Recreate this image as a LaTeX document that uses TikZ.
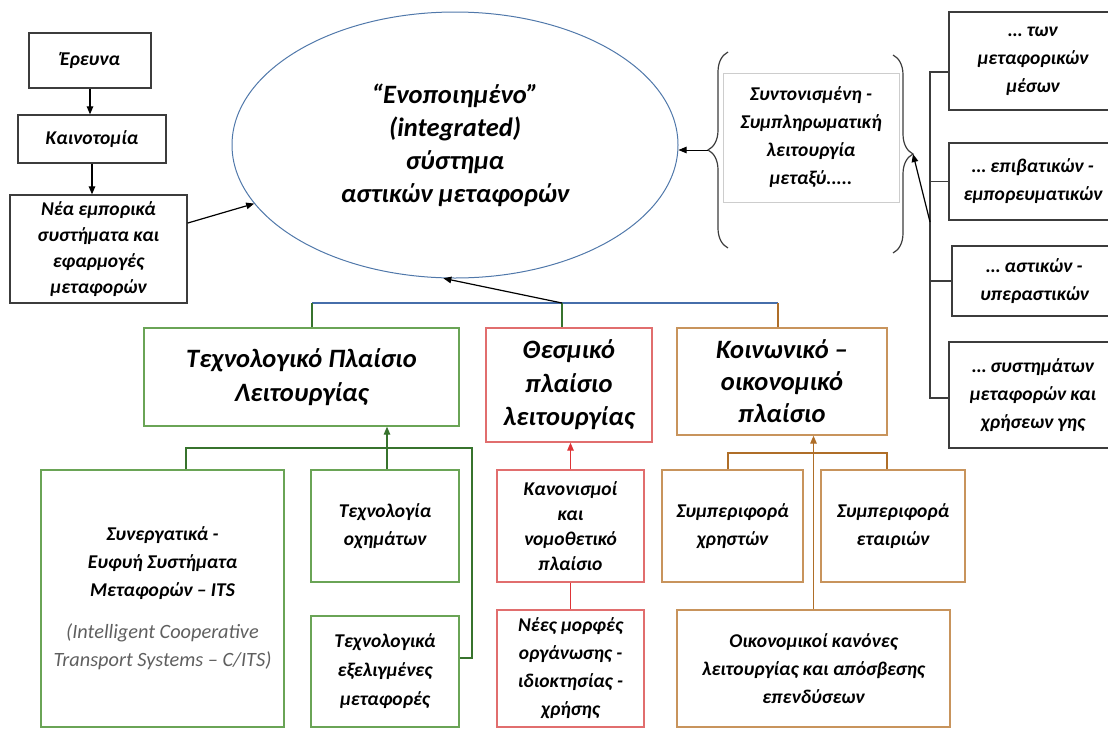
\documentclass[tikz,border=0pt]{standalone}
\usepackage{fontspec}
\setmainfont{Carlito}
\usetikzlibrary{arrows.meta,shapes.geometric,decorations.pathreplacing}

\definecolor{boxgray}{RGB}{60,60,60}
\definecolor{ligray}{RGB}{205,205,205}
\definecolor{itsgray}{RGB}{95,95,95}
\definecolor{ellblue}{RGB}{80,120,170}
\definecolor{busblue}{RGB}{70,110,170}
\definecolor{grnbox}{RGB}{106,164,86}
\definecolor{grnline}{RGB}{55,115,45}
\definecolor{redbox}{RGB}{225,110,110}
\definecolor{redline}{RGB}{222,52,55}
\definecolor{brnbox}{RGB}{200,148,92}
\definecolor{brnline}{RGB}{175,110,40}

\newcommand{\smallfont}[1]{\bfseries\itshape\fontsize{19.5}{#1}\selectfont}
\newcommand{\largefont}[1]{\bfseries\itshape\fontsize{26.5}{#1}\selectfont}
\newcommand{\engtext}[1]{{\mdseries\fontsize{20.3}{28}\selectfont\color{itsgray}#1}}

\tikzset{
  box/.style={draw=boxgray, line width=1.3pt, align=center, inner sep=2pt, font=\smallfont{28}},
  bigbox/.style={box, font=\largefont{34}},
  arr/.style={-{Triangle[length=8pt,width=6.5pt]}, line width=1.2pt, draw=black},
  conn/.style={line width=1.3pt},
  brace/.style={decorate, decoration={brace,amplitude=20pt}, line width=1.2pt, draw=boxgray},
}

\begin{document}
\begin{tikzpicture}[x=1pt,y=-1pt]
  \useasboundingbox (0,0) rectangle (1108,729);
  \clip (0,0) rectangle (1108,729);

  % Left chain
  \node[box, minimum width=122, minimum height=55] (erevna) at (90,60.5) {Έρευνα};
  \node[box, minimum width=148, minimum height=48] (kainot) at (92,139) {Καινοτομία};
  \node[box, minimum width=177, minimum height=108, font=\smallfont{26}] (nea) at (98.5,249)
    {Νέα εμπορικά\\συστήματα και\\εφαρμογές\\μεταφορών};

  % Central ellipse
  \node[ellipse, draw=ellblue, line width=1pt, minimum width=446, minimum height=266, inner sep=0pt,
    align=center, font=\largefont{33}] (sys) at (455,145)
    {“Ενοποιημένο”\\(integrated)\\σύστημα\\αστικών μεταφορών};

  % Braces and their text
  \node[box, draw=ligray, line width=0.8pt, minimum width=176, minimum height=129] (coord) at (811,137.5)
    {Συντονισμένη -\\Συμπληρωματική\\λειτουργία\\μεταξύ.....};
  \draw[brace] (728,248) -- (728,52);
  \draw[brace] (893,55) -- (893,253);
  \coordinate (lbtip) at (708,150);
  \coordinate (rbtip) at (913,154);

  % Right boxes
  \node[box, minimum width=168, minimum height=98] (means) at (1033,61) {… των\\μεταφορικών\\μέσων};
  \node[box, minimum width=168, minimum height=77] (pass) at (1033,181.5) {… επιβατικών -\\εμπορευματικών};
  \node[box, minimum width=165, minimum height=70] (urban) at (1034.5,281) {… αστικών -\\υπεραστικών};
  \node[box, minimum width=168, minimum height=106] (land) at (1033,395)
    {… συστημάτων\\μεταφορών και\\χρήσεων γης};

  % Middle row
  \node[bigbox, draw=grnbox, minimum width=315, minimum height=98] (tech) at (301.5,377)
    {Τεχνολογικό Πλαίσιο\\Λειτουργίας};
  \node[bigbox, draw=redbox, minimum width=166, minimum height=114, font=\largefont{33.5}] (thesm) at (569,385)
    {Θεσμικό\\πλαίσιο\\λειτουργίας};
  \node[bigbox, draw=brnbox, minimum width=210, minimum height=107, font=\largefont{32}] (koin) at (782,381.5)
    {Κοινωνικό –\\οικονομικό\\πλαίσιο};

  % Bottom row
  \node[box, draw=grnbox, minimum width=243, minimum height=257] (its) at (162.5,598.5)
    {Συνεργατικά -\\Ευφυή Συστήματα\\Μεταφορών – ITS\\[14pt]\engtext{(Intelligent Cooperative}\\\engtext{Transport Systems – C/ITS)}};
  \node[box, draw=grnbox, minimum width=148, minimum height=112] (veh) at (385,526) {Τεχνολογία\\οχημάτων};
  \node[box, draw=grnbox, minimum width=148, minimum height=111, font=\smallfont{29}] (adv) at (385,671.5)
    {Τεχνολογικά\\εξελιγμένες\\μεταφορές};
  \node[box, draw=redbox, minimum width=147, minimum height=112, font=\smallfont{25}] (kanon) at (570.5,526)
    {Κανονισμοί\\και\\νομοθετικό\\πλαίσιο};
  \node[box, draw=redbox, minimum width=147, minimum height=117] (forms) at (570.5,668.5)
    {Νέες μορφές\\οργάνωσης -\\ιδιοκτησίας -\\χρήσης};
  \node[box, draw=brnbox, minimum width=141, minimum height=112] (users) at (732.5,526) {Συμπεριφορά\\χρηστών};
  \node[box, draw=brnbox, minimum width=144, minimum height=112] (firms) at (893,526) {Συμπεριφορά\\εταιριών};
  \node[box, draw=brnbox, minimum width=273, minimum height=117] (econ) at (813.5,668.5)
    {Οικονομικοί κανόνες\\λειτουργίας και απόσβεσης\\επενδύσεων};

  % Arrows of the left chain
  \draw[arr] (erevna) -- (erevna |- kainot.north);
  \draw[arr] (kainot) -- (kainot |- nea.north);
  \draw[arr] (nea) -- (sys);

  % Braces to the ellipse and the right bus
  \draw[arr, line width=0.9pt] (lbtip) -- (lbtip -| sys.east);
  \coordinate (rT) at (930,72);
  \coordinate (rB) at (930,398);
  \coordinate (rA) at (930,222);
  \draw[conn, boxgray] (rT -| means.west) -- (rT) -- (rB) -- (rB -| land.west);
  \draw[conn, boxgray] (pass.west -| rT) -- (pass.west);
  \draw[conn, boxgray] (urban.west -| rT) -- (urban.west);
  \draw[arr] (rA) -- (rbtip);

  % Top bus
  \coordinate (busL) at (312,303);
  \coordinate (busM) at (562,303);
  \coordinate (busR) at (778,303);
  \draw[conn, busblue] (busL) -- (busR);
  \draw[conn, grnline] (busL) -- (busL |- tech.north);
  \draw[conn, grnline] (busM) -- (busM |- thesm.north);
  \draw[conn, brnline] (busR) -- (busR |- koin.north);
  \draw[arr] (busM) -- (sys.265);

  % Technology branch
  \coordinate (gL) at (186,448);
  \coordinate (gM) at (387,448);
  \coordinate (gR) at (472,448);
  \coordinate (gB) at (472,658);
  \draw[conn, grnline] (gL |- its.north) -- (gL) -- (gR) -- (gB) -- (gB -| adv.east);
  \draw[conn, grnline] (gM) -- (gM |- veh.north);
  \draw[arr, grnline, fill=grnline] (gM) -- (gM |- tech.south);

  % Institutional branch
  \draw[arr, redline, fill=redline] (kanon.north) -- (kanon.north |- thesm.south);
  \draw[conn, redline] (kanon.south) -- (forms.north);

  % Socio-economic branch
  \coordinate (bL) at (728,453);
  \coordinate (bR) at (887,453);
  \draw[conn, brnline] (bL |- users.north) -- (bL) -- (bR) -- (bR |- firms.north);
  \draw[arr, brnline, fill=brnline] (econ.north) -- (econ.north |- koin.south);
\end{tikzpicture}
\end{document}
